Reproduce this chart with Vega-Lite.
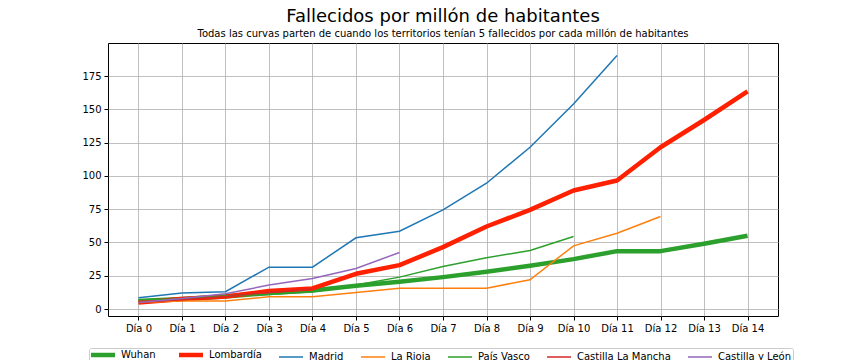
{
  "$schema": "https://vega.github.io/schema/vega-lite/v6.json",
  "autosize": {"type": "none"},
  "width": 670,
  "height": 273,
  "padding": {"left": 108, "top": 43, "right": 86, "bottom": 44},
  "background": "white",
  "title": {
    "text": "Fallecidos por millón de habitantes",
    "subtitle": "Todas las curvas parten de cuando los territorios tenían 5 fallecidos por cada millón de habitantes",
    "anchor": "middle",
    "font": "DejaVu Sans",
    "fontSize": 18,
    "fontWeight": "normal",
    "color": "black",
    "subtitleFont": "DejaVu Sans",
    "subtitleFontSize": 10,
    "subtitleColor": "black",
    "subtitlePadding": 3,
    "offset": 4
  },
  "config": {
    "view": {"stroke": "black", "strokeWidth": 1},
    "axis": {
      "labelFont": "DejaVu Sans",
      "labelFontSize": 10,
      "labelColor": "black",
      "gridColor": "#b0b0b0",
      "gridWidth": 0.8,
      "tickColor": "black",
      "tickSize": 4,
      "domain": false,
      "title": null
    },
    "legend": {
      "labelFont": "DejaVu Sans",
      "labelFontSize": 10,
      "labelColor": "black"
    }
  },
  "data": {
    "values": [
      {"region": "Wuhan", "dia": "Día 0", "v": 6},
      {"region": "Wuhan", "dia": "Día 1", "v": 7.5},
      {"region": "Wuhan", "dia": "Día 2", "v": 9.5},
      {"region": "Wuhan", "dia": "Día 3", "v": 12},
      {"region": "Wuhan", "dia": "Día 4", "v": 14},
      {"region": "Wuhan", "dia": "Día 5", "v": 17.5},
      {"region": "Wuhan", "dia": "Día 6", "v": 20.5},
      {"region": "Wuhan", "dia": "Día 7", "v": 24},
      {"region": "Wuhan", "dia": "Día 8", "v": 28},
      {"region": "Wuhan", "dia": "Día 9", "v": 32.5},
      {"region": "Wuhan", "dia": "Día 10", "v": 37.5},
      {"region": "Wuhan", "dia": "Día 11", "v": 43.5},
      {"region": "Wuhan", "dia": "Día 12", "v": 43.5},
      {"region": "Wuhan", "dia": "Día 13", "v": 49},
      {"region": "Wuhan", "dia": "Día 14", "v": 55},
      {"region": "Lombardía", "dia": "Día 0", "v": 5},
      {"region": "Lombardía", "dia": "Día 1", "v": 7.5},
      {"region": "Lombardía", "dia": "Día 2", "v": 9.5},
      {"region": "Lombardía", "dia": "Día 3", "v": 13.5},
      {"region": "Lombardía", "dia": "Día 4", "v": 15.5},
      {"region": "Lombardía", "dia": "Día 5", "v": 26.5},
      {"region": "Lombardía", "dia": "Día 6", "v": 33},
      {"region": "Lombardía", "dia": "Día 7", "v": 46.5},
      {"region": "Lombardía", "dia": "Día 8", "v": 62},
      {"region": "Lombardía", "dia": "Día 9", "v": 74.5},
      {"region": "Lombardía", "dia": "Día 10", "v": 89},
      {"region": "Lombardía", "dia": "Día 11", "v": 96.5},
      {"region": "Lombardía", "dia": "Día 12", "v": 121.5},
      {"region": "Lombardía", "dia": "Día 13", "v": 142},
      {"region": "Lombardía", "dia": "Día 14", "v": 163.5},
      {"region": "Madrid", "dia": "Día 0", "v": 8.5},
      {"region": "Madrid", "dia": "Día 1", "v": 12},
      {"region": "Madrid", "dia": "Día 2", "v": 13},
      {"region": "Madrid", "dia": "Día 3", "v": 31.5},
      {"region": "Madrid", "dia": "Día 4", "v": 31.5},
      {"region": "Madrid", "dia": "Día 5", "v": 53.5},
      {"region": "Madrid", "dia": "Día 6", "v": 58.5},
      {"region": "Madrid", "dia": "Día 7", "v": 74.5},
      {"region": "Madrid", "dia": "Día 8", "v": 94.5},
      {"region": "Madrid", "dia": "Día 9", "v": 121.5},
      {"region": "Madrid", "dia": "Día 10", "v": 154},
      {"region": "Madrid", "dia": "Día 11", "v": 190.5},
      {"region": "La Rioja", "dia": "Día 0", "v": 5},
      {"region": "La Rioja", "dia": "Día 1", "v": 6},
      {"region": "La Rioja", "dia": "Día 2", "v": 6},
      {"region": "La Rioja", "dia": "Día 3", "v": 9.3},
      {"region": "La Rioja", "dia": "Día 4", "v": 9.3},
      {"region": "La Rioja", "dia": "Día 5", "v": 12.5},
      {"region": "La Rioja", "dia": "Día 6", "v": 15.7},
      {"region": "La Rioja", "dia": "Día 7", "v": 15.7},
      {"region": "La Rioja", "dia": "Día 8", "v": 15.7},
      {"region": "La Rioja", "dia": "Día 9", "v": 22},
      {"region": "La Rioja", "dia": "Día 10", "v": 47.5},
      {"region": "La Rioja", "dia": "Día 11", "v": 57},
      {"region": "La Rioja", "dia": "Día 12", "v": 69.5},
      {"region": "País Vasco", "dia": "Día 0", "v": 7},
      {"region": "País Vasco", "dia": "Día 1", "v": 7.5},
      {"region": "País Vasco", "dia": "Día 2", "v": 10},
      {"region": "País Vasco", "dia": "Día 3", "v": 11},
      {"region": "País Vasco", "dia": "Día 4", "v": 13},
      {"region": "País Vasco", "dia": "Día 5", "v": 18},
      {"region": "País Vasco", "dia": "Día 6", "v": 24},
      {"region": "País Vasco", "dia": "Día 7", "v": 32},
      {"region": "País Vasco", "dia": "Día 8", "v": 38.5},
      {"region": "País Vasco", "dia": "Día 9", "v": 44},
      {"region": "País Vasco", "dia": "Día 10", "v": 54.5},
      {"region": "Castilla La Mancha", "dia": "Día 0", "v": 5},
      {"region": "Castilla La Mancha", "dia": "Día 1", "v": 7},
      {"region": "Castilla La Mancha", "dia": "Día 2", "v": 9.5},
      {"region": "Castilla La Mancha", "dia": "Día 3", "v": 12.5},
      {"region": "Castilla La Mancha", "dia": "Día 4", "v": 15},
      {"region": "Castilla y León", "dia": "Día 0", "v": 5},
      {"region": "Castilla y León", "dia": "Día 1", "v": 8},
      {"region": "Castilla y León", "dia": "Día 2", "v": 11.5},
      {"region": "Castilla y León", "dia": "Día 3", "v": 18},
      {"region": "Castilla y León", "dia": "Día 4", "v": 23},
      {"region": "Castilla y León", "dia": "Día 5", "v": 30.5},
      {"region": "Castilla y León", "dia": "Día 6", "v": 42.5}
    ]
  },
  "encoding": {
    "x": {
      "field": "dia",
      "type": "ordinal",
      "scale": {
        "type": "point",
        "padding": 0.7,
        "domain": ["Día 0","Día 1","Día 2","Día 3","Día 4","Día 5","Día 6","Día 7","Día 8","Día 9","Día 10","Día 11","Día 12","Día 13","Día 14"]
      },
      "axis": {"labelAngle": 0, "grid": true, "labelPadding": 3}
    },
    "y": {
      "field": "v",
      "type": "quantitative",
      "scale": {"domain": [-5.2, 199.8], "nice": false, "zero": false},
      "axis": {"values": [0, 25, 50, 75, 100, 125, 150, 175], "grid": true, "labelPadding": 3}
    },
    "color": {
      "field": "region",
      "type": "nominal",
      "scale": {
        "domain": ["Wuhan", "Lombardía", "Madrid", "La Rioja", "País Vasco", "Castilla La Mancha", "Castilla y León"],
        "range": ["#2ca02c", "#ff2000", "#1f77b4", "#ff7f0e", "#2ca02c", "#d62728", "#9467bd"]
      },
      "legend": {
        "orient": "none",
        "legendX": -19,
        "legendY": 305,
        "direction": "horizontal",
        "title": null,
        "symbolType": "M-2.4,0H2.4",
        "symbolSize": 100,
        "symbolOffset": 7,
        "labelOffset": 13,
        "columnPadding": 14,
        "strokeColor": "#cccccc",
        "fillColor": "white",
        "padding": 2,
        "cornerRadius": 2,
        "labelBaseline": "middle",
        "encode": {
          "symbols": {
            "update": {
              "strokeCap": {"value": "butt"},
              "strokeWidth": {"signal": "datum.label == 'Wuhan' || datum.label == 'Lombardía' ? 4.5 : 1.5"}
            }
          }
        }
      }
    }
  },
  "layer": [
    {
      "transform": [{"filter": "datum.region == 'Wuhan' || datum.region == 'Lombardía'"}],
      "mark": {"type": "line", "strokeWidth": 4.5, "strokeJoin": "round"}
    },
    {
      "transform": [{"filter": "datum.region != 'Wuhan' && datum.region != 'Lombardía'"}],
      "mark": {"type": "line", "strokeWidth": 1.5}
    }
  ]
}
